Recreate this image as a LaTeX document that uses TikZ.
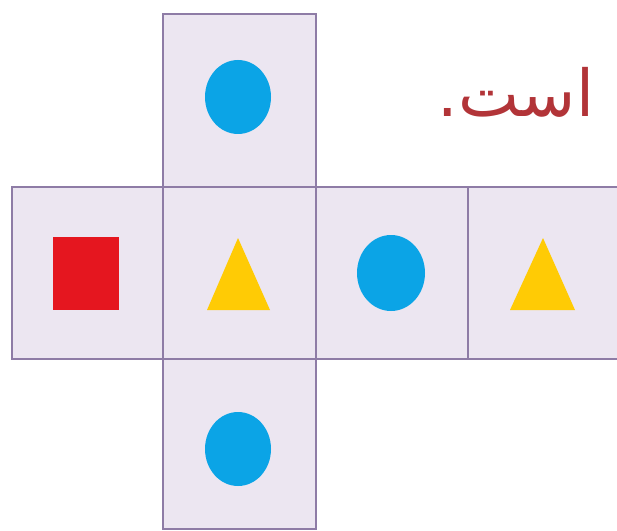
\documentclass[tikz,border=0pt]{standalone}
\usepackage{fontspec}
\newfontfamily\arabicfont[Script=Arabic]{DejaVu Sans}
\TeXXeTstate=1
\usepackage{xcolor}
\definecolor{facefill}{HTML}{ECE6F1}
\definecolor{faceline}{HTML}{8E7CA6}
\definecolor{dotblue}{HTML}{0BA4E6}
\definecolor{triyellow}{HTML}{FFCB05}
\definecolor{boxred}{HTML}{E5161F}
\definecolor{textred}{HTML}{B23438}
\tikzset{face/.style={fill=facefill,draw=faceline,line width=1.6pt}}

\begin{document}
\begin{tikzpicture}[x=0.025cm,y=-0.025cm]
\useasboundingbox(0,0) rectangle (617,531);
\clip(0,0) rectangle (617,531);
\fill[white](0,0) rectangle (617,531);
\draw[face](163,14) rectangle (316,187);
\foreach \a/\b in {12/163,163/316,316/468,468/622}
 \draw[face](\a,187) rectangle (\b,359);
\draw[face](163,359) rectangle (316,529);
\fill[dotblue](238,97) ellipse [x radius=33,y radius=37];
\fill[boxred](53,237) rectangle (119,310);
\fill[triyellow](238,238)--(270,310)--(207,310)--cycle;
\fill[dotblue](391,273) ellipse [x radius=34,y radius=38];
\fill[triyellow](543,238)--(575,310)--(510,310)--cycle;
\fill[dotblue](238,449) ellipse [x radius=33,y radius=37];
\node[text=textred,font=\arabicfont\fontsize{46}{52}\selectfont](tail) at (516,92){\beginR است.\endR};
\end{tikzpicture}
\end{document}
